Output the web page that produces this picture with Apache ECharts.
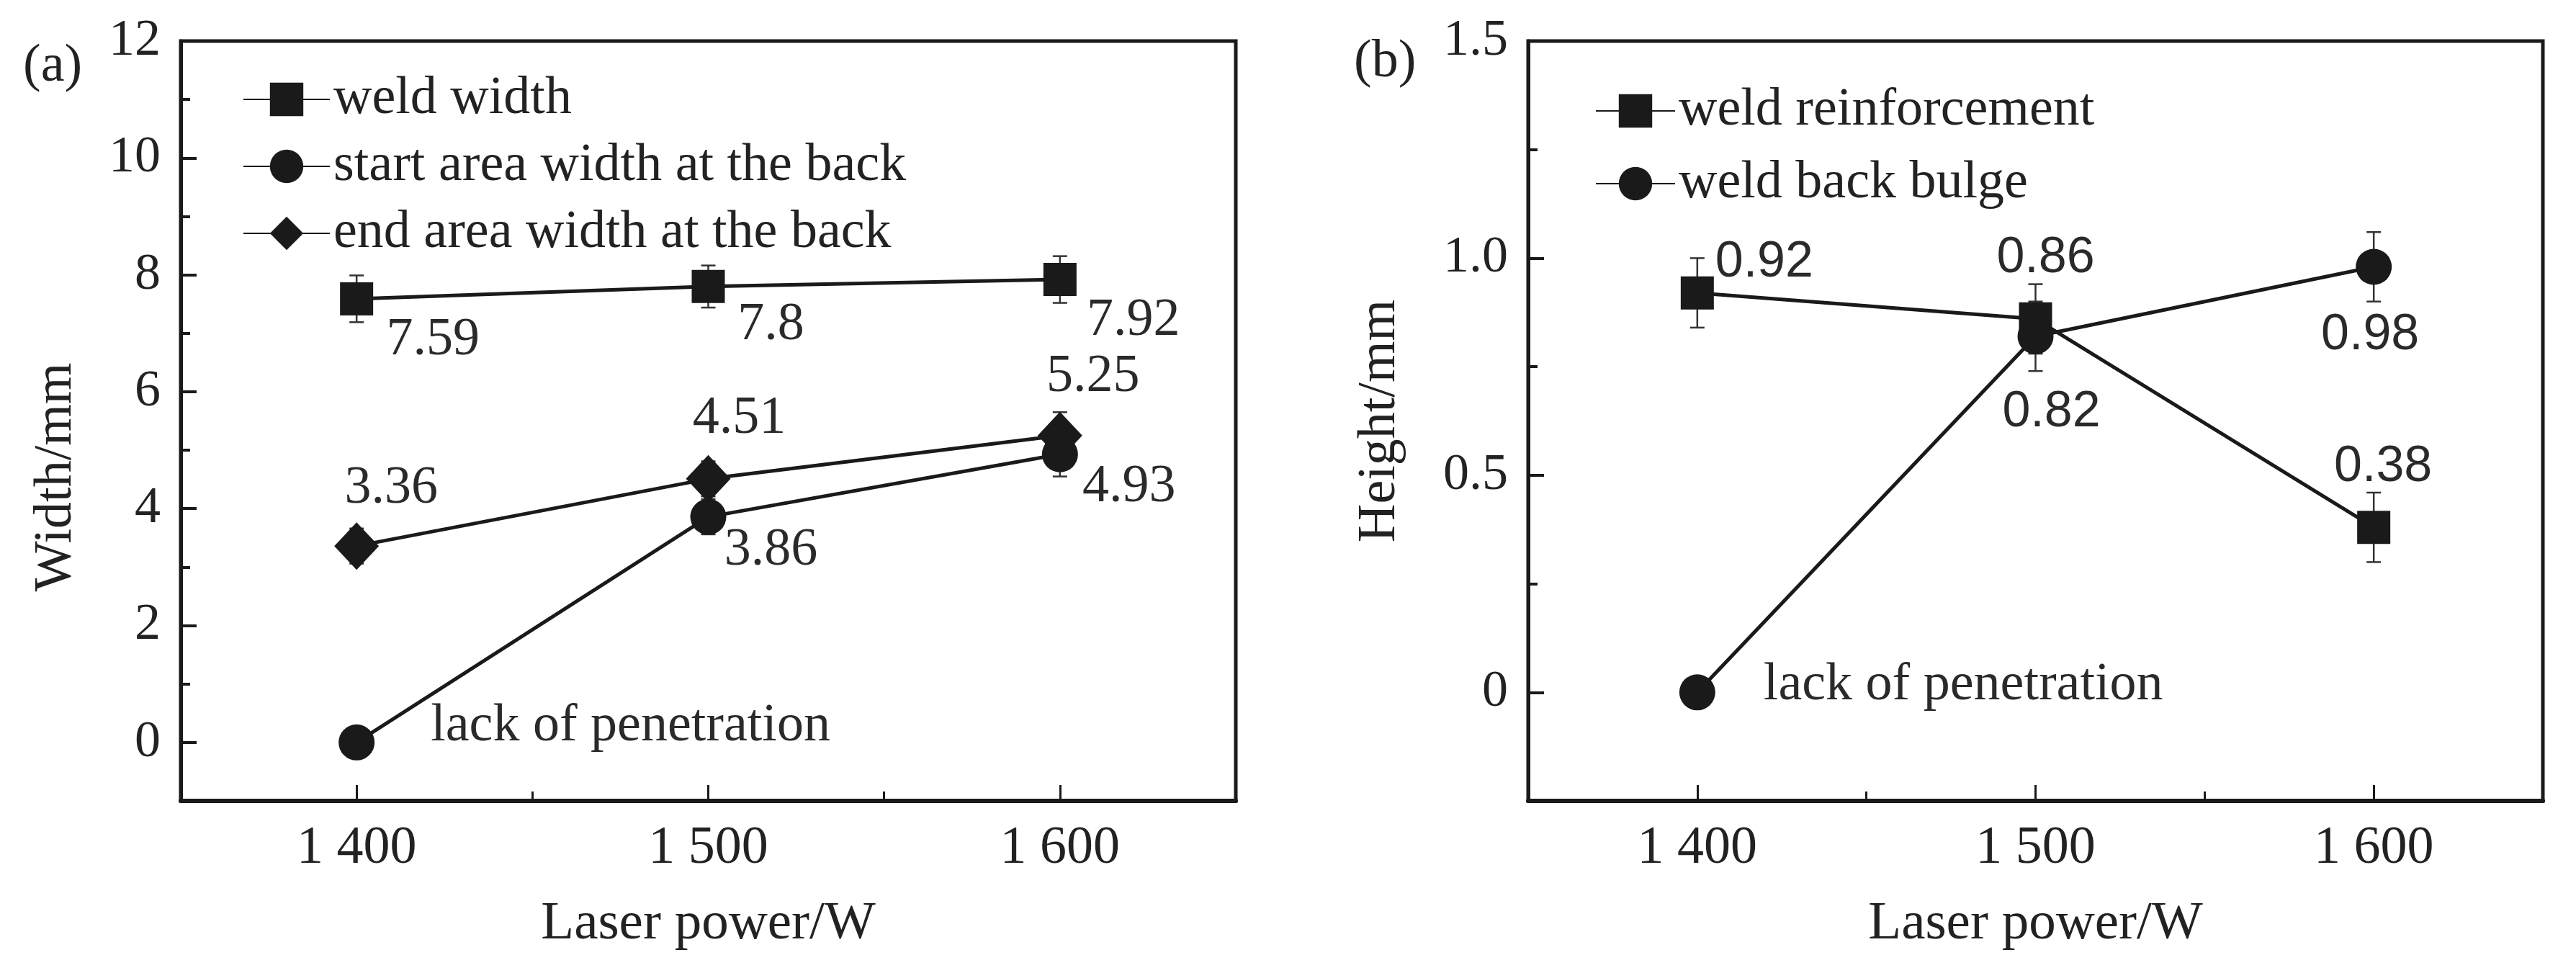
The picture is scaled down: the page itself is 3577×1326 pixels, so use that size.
<!DOCTYPE html>
<html><head><meta charset="utf-8">
<script src="https://cdn.jsdelivr.net/npm/echarts@6/dist/echarts.min.js"></script>
<style>html,body{margin:0;padding:0;background:#fff}#c{width:3577px;height:1326px}</style>
</head><body><div id="c"></div>
<script>
// ---------- data ----------
const laserPower = [1400, 1500, 1600];
const powerTicks = [1400, 1500, 1600];
const powerMinorTicks = [1450, 1550];
const widthTicks = [0, 2, 4, 6, 8, 10, 12];
const widthMinorTicks = [1, 3, 5, 7, 9, 11];
const heightTicks = [0, 0.5, 1.0, 1.5];
const heightMinorTicks = [0.25, 0.75, 1.25];

const weldWidth = [7.59, 7.8, 7.92];
const weldWidthErr = [0.4, 0.36, 0.4];
const startAreaWidth = [0, 3.86, 4.93];
const startAreaErr = [0, 0.3, 0.38];
const endAreaWidth = [3.36, 4.51, 5.25];
const endAreaErr = [0.3, 0.3, 0.4];

const weldReinforcement = [0.92, 0.86, 0.38];
const reinforcementErr = [0.08, 0.08, 0.08];
const weldBackBulge = [0, 0.82, 0.98];
const bulgeErr = [0, 0.08, 0.08];

const namesA = ['weld width', 'start area width at the back', 'end area width at the back'];
const namesB = ['weld reinforcement', 'weld back bulge'];
const noPenetrationText = 'lack of penetration';

// ---------- style ----------
const SERIF = 'Liberation Serif, Times New Roman, serif';
const SANS = 'Liberation Sans, Arial, sans-serif';
const INK = '#1a1a1a';
const TXT = '#222';

function fmtPower(v) { return String(v).replace(/^(\d)(\d{3})$/, '$1 $2'); }
function fmtHeight(v) { return v === 0 ? '0' : v.toFixed(1); }

function xAxes(gridIndex) {
  return [
    {
      type: 'value', gridIndex, min: 1350, max: 1650, position: 'bottom',
      name: 'Laser power/W', nameLocation: 'middle', nameGap: 134,
      nameTextStyle: { fontFamily: SERIF, fontSize: 75, color: TXT },
      axisLine: { show: true, onZero: false, lineStyle: { color: INK, width: 6 } },
      axisTick: { show: true, inside: true, length: 22, customValues: powerTicks, lineStyle: { color: INK, width: 3 } },
      axisLabel: { show: true, customValues: powerTicks, margin: 30, formatter: fmtPower,
        fontFamily: SERIF, fontSize: 74, color: TXT },
      splitLine: { show: false }
    },
    {
      type: 'value', gridIndex, min: 1350, max: 1650, position: 'bottom',
      axisLine: { show: false, onZero: false },
      axisTick: { show: true, inside: true, length: 13, customValues: powerMinorTicks, lineStyle: { color: INK, width: 3 } },
      axisLabel: { show: false },
      splitLine: { show: false }
    }
  ];
}

function yAxes(gridIndex, min, max, ticks, minor, name, nameGap, fmt, namePad) {
  return [
    {
      type: 'value', gridIndex, min, max, position: 'left',
      name, nameLocation: 'middle', nameGap,
      nameTextStyle: { fontFamily: SERIF, fontSize: 74, color: TXT, padding: namePad },
      axisLine: { show: true, onZero: false, lineStyle: { color: INK, width: 5 } },
      axisTick: { show: true, inside: true, length: 22, customValues: ticks, lineStyle: { color: INK, width: 4 } },
      axisLabel: { show: true, customValues: ticks, margin: 28, formatter: fmt,
        fontFamily: SERIF, fontSize: 72, color: TXT },
      splitLine: { show: false }
    },
    {
      type: 'value', gridIndex, min, max, position: 'left',
      axisLine: { show: false, onZero: false },
      axisTick: { show: true, inside: true, length: 13, customValues: minor, lineStyle: { color: INK, width: 4 } },
      axisLabel: { show: false },
      splitLine: { show: false }
    }
  ];
}

function lineSeries(name, xi, yi, values, symbol, size, offsets, labelFont, labelSize, zeroText, zeroOffset) {
  return {
    type: 'line', name, xAxisIndex: xi, yAxisIndex: yi, z: 5,
    symbol, symbolSize: size,
    itemStyle: { color: INK, opacity: 1 },
    lineStyle: { color: INK, width: 5 },
    data: laserPower.map((p, i) => {
      const isZero = values[i] === 0 && zeroText;
      return {
        value: [p, values[i]],
        label: {
          show: true, position: 'inside',
          offset: isZero ? zeroOffset : offsets[i],
          align: isZero ? 'left' : 'center',
          verticalAlign: 'middle',
          formatter: isZero ? zeroText : String(values[i]),
          fontFamily: isZero ? SERIF : labelFont,
          fontSize: isZero ? 74 : labelSize,
          color: '#2a2a2a'
        }
      };
    })
  };
}

function errSeries(xi, yi, values, errs) {
  return {
    type: 'custom', xAxisIndex: xi, yAxisIndex: yi, z: 3, silent: true,
    data: laserPower.map((p, i) => [p, values[i], errs[i]]),
    renderItem(params, api) {
      const x = api.value(0), y = api.value(1), e = api.value(2);
      if (!e) return null;
      const t = api.coord([x, y + e]), b = api.coord([x, y - e]);
      const w = 10;
      const st = { stroke: '#333', lineWidth: 2.5 };
      return { type: 'group', children: [
        { type: 'line', shape: { x1: t[0], y1: t[1], x2: b[0], y2: b[1] }, style: st },
        { type: 'line', shape: { x1: t[0] - w, y1: t[1], x2: t[0] + w, y2: t[1] }, style: st },
        { type: 'line', shape: { x1: b[0] - w, y1: b[1], x2: b[0] + w, y2: b[1] }, style: st }
      ]};
    }
  };
}

const chart = echarts.init(document.getElementById('c'), null, { renderer: 'canvas' });
const option = {
  backgroundColor: '#fff',
  animation: false,
  grid: [
    { left: 251, top: 57, width: 1465, height: 1070, show: true, borderColor: INK, borderWidth: 5, containLabel: false },
    { left: 2122, top: 57, width: 1409, height: 1070, show: true, borderColor: INK, borderWidth: 5, containLabel: false }
  ],
  xAxis: [...xAxes(0), ...xAxes(1)],
  yAxis: [
    ...yAxes(0, -1, 12, widthTicks, widthMinorTicks, 'Width/mm', 135, v => String(v), [0, 156, 0, 0]),
    ...yAxes(1, -0.25, 1.5, heightTicks, heightMinorTicks, 'Height/mm', 168, fmtHeight, 0)
  ],
  legend: [
    {
      data: namesA, left: 332, top: 96, orient: 'vertical',
      itemWidth: 120, itemHeight: 58, itemGap: 19,
      textStyle: { fontFamily: SERIF, fontSize: 74, color: TXT, lineHeight: 72 },
      selectedMode: false
    },
    {
      data: namesB, left: 2210, top: 112, orient: 'vertical',
      itemWidth: 110, itemHeight: 58, itemGap: 27,
      textStyle: { fontFamily: SERIF, fontSize: 74, color: TXT, lineHeight: 72 },
      selectedMode: false
    }
  ],
  graphic: [
    { type: 'text', left: 32, top: 56, style: { text: '(a)', font: '74px ' + SERIF, fill: TXT } },
    { type: 'text', left: 1880, top: 50, style: { text: '(b)', font: '74px ' + SERIF, fill: TXT } }
  ],
  series: [
    errSeries(0, 0, weldWidth, weldWidthErr),
    errSeries(0, 0, startAreaWidth, startAreaErr),
    errSeries(0, 0, endAreaWidth, endAreaErr),
    lineSeries(namesA[0], 0, 0, weldWidth, 'rect', 46,
      [[106, 58], [87, 54], [102, 57]], SERIF, 74),
    lineSeries(namesA[1], 0, 0, startAreaWidth, 'circle', 50,
      [[0, 0], [87, 47], [96, 46]], SERIF, 74, noPenetrationText, [103, -22]),
    lineSeries(namesA[2], 0, 0, endAreaWidth, 'diamond', [62, 66],
      [[48, -80], [43, -83], [46, -81]], SERIF, 74),
    errSeries(2, 2, weldReinforcement, reinforcementErr),
    errSeries(2, 2, weldBackBulge, bulgeErr),
    lineSeries(namesB[0], 2, 2, weldReinforcement, 'rect', 46,
      [[93, -42], [14, -84], [13, -83]], SANS, 70),
    lineSeries(namesB[1], 2, 2, weldBackBulge, 'circle', 50,
      [[0, 0], [22, 106], [-5, 95]], SANS, 70, noPenetrationText, [92, -10])
  ]
};
chart.setOption(option);
</script>
</body></html>
